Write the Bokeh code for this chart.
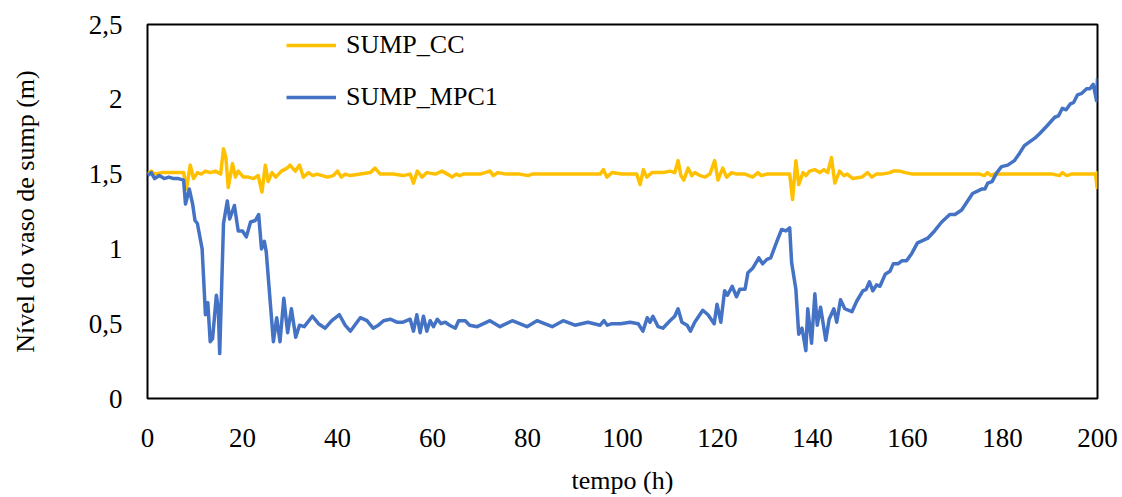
from bokeh.plotting import figure
from bokeh.models import Range1d, FixedTicker, CustomJSTickFormatter, Legend, LegendItem
from bokeh.embed import file_html
from bokeh.resources import INLINE

t_cc = [0, 0.8, 1.5, 3, 5, 7.6, 8.2, 9.0, 9.7, 10.5, 11.3, 12.2, 13.2, 14.3, 15.4, 16.0, 16.5, 17.0, 17.9,
        18.5, 19.1, 20.2, 21.2, 22.3, 23.3, 24.1, 24.8, 25.4, 26.2, 27.0, 28.2, 29.4, 30.0, 31.1, 32.0, 32.8,
        33.9, 34.8, 35.7, 37.9, 39.1, 40.0, 40.8, 41.6, 42.7, 44.8, 46.9, 47.9, 49.0, 51.7, 53.8, 55.3, 56.0,
        56.8, 57.8, 58.8, 60.6, 62.0, 63.7, 64.1, 65.0, 65.7, 66.5, 70.0, 72.1, 72.8, 73.8, 75.5, 78.4, 80.1,
        81.0, 84.1, 95.3, 96.0, 96.7, 97.8, 99.9, 103.0, 103.7, 104.4, 105.1, 106.2, 108.5, 110.0, 111.0,
        111.7, 112.3, 112.9, 113.8, 114.6, 115.2, 116.3, 117.4, 118.4, 119.4, 120.1, 121.1, 121.9, 123.0,
        124.0, 125.8, 127.4, 128.5, 129.2, 130.4, 132.5, 135.2, 135.8, 136.5, 137.1, 138.0, 138.6, 139.4,
        140.5, 141.5, 142.4, 143.2, 144.0, 144.7, 145.7, 146.6, 147.3, 148.5, 150.4, 151.6, 152.5, 153.4,
        154.6, 156.3, 157.0, 158.4, 159.5, 161.1, 164.7, 167.8, 171.0, 175.2, 176.2, 176.8, 177.6, 178.2,
        190.5, 192.0, 192.6, 193.5, 194.5, 199.0, 199.6, 199.9, 200.0]
sump_cc = [1.50, 1.52, 1.50, 1.51, 1.51, 1.51, 1.40, 1.56, 1.47, 1.51, 1.50, 1.52, 1.51, 1.52, 1.50, 1.67,
           1.61, 1.41, 1.57, 1.48, 1.52, 1.48, 1.48, 1.47, 1.49, 1.38, 1.56, 1.45, 1.51, 1.48, 1.52, 1.54,
           1.56, 1.52, 1.56, 1.48, 1.51, 1.49, 1.50, 1.48, 1.49, 1.52, 1.48, 1.50, 1.49, 1.50, 1.51, 1.54,
           1.50, 1.50, 1.49, 1.50, 1.44, 1.52, 1.48, 1.51, 1.50, 1.52, 1.49, 1.48, 1.50, 1.49, 1.50, 1.50,
           1.52, 1.49, 1.51, 1.50, 1.50, 1.49, 1.50, 1.50, 1.50, 1.53, 1.48, 1.51, 1.50, 1.50, 1.43, 1.53,
           1.48, 1.51, 1.51, 1.52, 1.51, 1.59, 1.49, 1.46, 1.54, 1.49, 1.51, 1.49, 1.48, 1.50, 1.59, 1.46,
           1.54, 1.48, 1.51, 1.50, 1.50, 1.48, 1.51, 1.49, 1.50, 1.50, 1.50, 1.33, 1.59, 1.43, 1.51, 1.49,
           1.52, 1.53, 1.51, 1.53, 1.51, 1.61, 1.44, 1.52, 1.49, 1.50, 1.47, 1.48, 1.51, 1.48, 1.50, 1.50,
           1.51, 1.52, 1.52, 1.51, 1.50, 1.50, 1.50, 1.50, 1.50, 1.49, 1.51, 1.49, 1.50, 1.50, 1.49, 1.51,
           1.49, 1.50, 1.50, 1.50, 1.41, 1.52]

t_mpc = [0, 0.8, 1.5, 2.5, 3.5, 4.5, 5.5, 6.5, 7.6, 8.0, 8.8, 9.5, 10.0, 10.5, 11.5, 12.2, 12.7, 13.2, 13.7,
         14.5, 14.9, 15.2, 16.0, 16.8, 17.3, 18.3, 19.1, 20.0, 20.8, 21.7, 22.7, 23.4, 24.0, 24.6, 25.0, 26.5,
         27.2, 27.9, 28.7, 29.5, 30.3, 31.2, 32.0, 33.0, 34.7, 36.0, 37.4, 38.8, 40.4, 41.6, 42.7, 44.1, 44.8,
         46.2, 47.5, 48.6, 49.7, 51.1, 52.5, 53.8, 55.3, 56.0, 56.7, 57.4, 58.1, 58.8, 59.5, 60.2, 61.0, 61.8,
         62.7, 63.6, 64.8, 65.5, 66.9, 67.8, 69.4, 72.1, 74.2, 76.8, 79.9, 82.0, 85.2, 87.5, 90.0, 92.7, 95.3,
         96.1, 96.8, 97.8, 99.6, 101.6, 103.3, 104.3, 105.2, 105.8, 106.4, 107.5, 108.5, 110.0, 111.0, 111.7,
         112.5, 113.6, 114.3, 115.2, 116.9, 118.0, 119.3, 119.9, 120.7, 121.5, 122.1, 123.1, 124.0, 124.7,
         125.8, 126.4, 127.4, 128.7, 129.5, 130.4, 131.2, 132.5, 133.5, 134.4, 135.2, 135.6, 136.5, 137.1,
         137.8, 138.6, 139.0, 139.8, 140.5, 141.0, 141.7, 142.8, 143.5, 144.5, 145.1, 145.9, 146.8, 148.3,
         149.3, 150.6, 151.3, 152.0, 152.7, 153.5, 154.2, 155.3, 156.3, 157.0, 158.0, 158.8, 159.8, 160.9,
         162.1, 164.2, 165.7, 167.2, 168.9, 170.0, 171.4, 173.7, 175.6, 176.3, 176.9, 177.8, 178.8, 179.8,
         181.1, 182.5, 183.6, 184.6, 186.8, 187.8, 189.3, 191.0, 191.8, 192.6, 193.4, 194.3, 195.0, 195.8,
         196.7, 197.7, 198.4, 199.1, 199.5, 199.8, 200.0]
sump_mpc1 = [1.49, 1.51, 1.47, 1.49, 1.47, 1.48, 1.47, 1.47, 1.46, 1.30, 1.40, 1.30, 1.19, 1.17, 1.00, 0.56,
             0.64, 0.38, 0.40, 0.69, 0.60, 0.30, 1.17, 1.32, 1.20, 1.29, 1.12, 1.12, 1.08, 1.18, 1.19, 1.23,
             1.00, 1.05, 0.98, 0.38, 0.54, 0.38, 0.67, 0.44, 0.60, 0.41, 0.49, 0.48, 0.55, 0.50, 0.47, 0.52,
             0.56, 0.49, 0.45, 0.51, 0.54, 0.52, 0.47, 0.49, 0.52, 0.53, 0.51, 0.51, 0.53, 0.45, 0.56, 0.44,
             0.55, 0.45, 0.52, 0.48, 0.53, 0.50, 0.51, 0.49, 0.47, 0.52, 0.52, 0.49, 0.48, 0.52, 0.48, 0.52,
             0.48, 0.52, 0.48, 0.52, 0.49, 0.51, 0.49, 0.52, 0.49, 0.50, 0.50, 0.51, 0.50, 0.45, 0.54, 0.51,
             0.55, 0.48, 0.47, 0.52, 0.55, 0.60, 0.51, 0.49, 0.45, 0.51, 0.59, 0.56, 0.50, 0.63, 0.51, 0.72,
             0.69, 0.75, 0.68, 0.73, 0.73, 0.84, 0.87, 0.94, 0.90, 0.93, 0.94, 1.05, 1.13, 1.12, 1.14, 0.91,
             0.73, 0.43, 0.47, 0.32, 0.60, 0.37, 0.70, 0.49, 0.61, 0.39, 0.53, 0.60, 0.51, 0.66, 0.60, 0.58,
             0.65, 0.72, 0.73, 0.78, 0.72, 0.76, 0.75, 0.83, 0.85, 0.90, 0.90, 0.92, 0.92, 0.97, 1.04, 1.07,
             1.12, 1.18, 1.23, 1.23, 1.26, 1.37, 1.40, 1.40, 1.44, 1.45, 1.51, 1.55, 1.56, 1.59, 1.64, 1.69,
             1.74, 1.77, 1.82, 1.88, 1.89, 1.94, 1.93, 1.97, 1.98, 2.03, 2.04, 2.07, 2.07, 2.10, 2.04, 1.99,
             2.14]

x_ticks = [0, 20, 40, 60, 80, 100, 120, 140, 160, 180, 200]
y_ticks = [0, 0.5, 1, 1.5, 2, 2.5]

FONT = "Liberation Serif"

p = figure(width=1122, height=497, output_backend="svg", toolbar_location=None,
           x_range=Range1d(0, 200), y_range=Range1d(0, 2.5),
           min_border_left=147, min_border_right=25, min_border_top=24, min_border_bottom=92)
p.grid.visible = False
p.outline_line_color = "black"
p.outline_line_width = 2
p.background_fill_color = "white"
p.border_fill_color = "white"

r_cc = p.line(t_cc, sump_cc, line_color="#FFC000", line_width=3.5, line_join="round")
r_mpc = p.line(t_mpc, sump_mpc1, line_color="#4472C4", line_width=3.5, line_join="round")

p.xaxis.ticker = FixedTicker(ticks=x_ticks)
p.yaxis.ticker = FixedTicker(ticks=y_ticks)
p.yaxis.formatter = CustomJSTickFormatter(code="return tick.toString().replace('.', ',');")

for ax in (p.xaxis[0], p.yaxis[0]):
    ax.axis_line_color = None
    ax.major_tick_line_color = None
    ax.minor_tick_line_color = None
    ax.major_label_text_font = FONT
    ax.major_label_text_font_size = "27px"
    ax.major_label_text_color = "black"
    ax.axis_label_text_font = FONT
    ax.axis_label_text_font_size = "26px"
    ax.axis_label_text_font_style = "normal"
    ax.axis_label_text_color = "black"

p.xaxis.axis_label = "tempo (h)"
p.yaxis.axis_label = "Nível do vaso de sump (m)"
p.xaxis.major_label_standoff = 24
p.yaxis.major_label_standoff = 19
p.xaxis.axis_label_standoff = 16
p.yaxis.axis_label_standoff = 46

legend = Legend(items=[LegendItem(label="SUMP_CC", renderers=[r_cc]),
                       LegendItem(label="SUMP_MPC1", renderers=[r_mpc])],
                location=(139, 286), orientation="vertical")
legend.border_line_color = None
legend.background_fill_alpha = 0
legend.padding = 0
legend.margin = 0
legend.glyph_width = 50
legend.glyph_height = 20
legend.label_height = 20
legend.spacing = 22
legend.label_standoff = 10
legend.label_text_font = FONT
legend.label_text_font_size = "26px"
legend.label_text_color = "black"
p.add_layout(legend)

open("out.html", "w").write(file_html(p, INLINE))
